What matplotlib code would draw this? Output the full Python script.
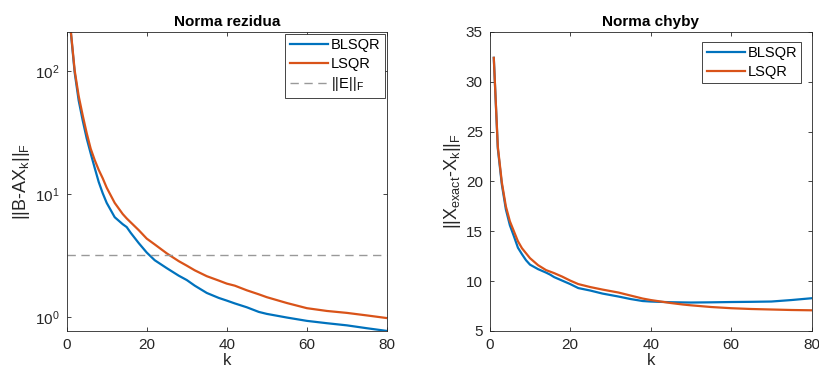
import matplotlib
matplotlib.use("Agg")
import matplotlib.pyplot as plt

# iteration numbers where values were read
k = [1, 2, 3, 4, 5, 6, 7, 8, 9, 10, 12, 14, 15, 16, 18, 20, 22, 25, 28, 30, 32,
     35, 38, 40, 42, 45, 48, 50, 55, 60, 65, 70, 75, 80]

# residual norm ||B - A X_k||_F
res_blsqr = [215, 98, 58, 40, 28.5, 21.5, 16.4, 12.6, 10.2, 8.5, 6.5, 5.7, 5.4, 4.85,
             4.0, 3.35, 2.9, 2.5, 2.17, 2.0, 1.8, 1.57, 1.43, 1.36, 1.29, 1.2, 1.1,
             1.06, 0.99, 0.93, 0.89, 0.855, 0.81, 0.77]
res_lsqr = [220, 102, 63, 44, 31.5, 23.5, 19, 15.8, 13.5, 11.3, 8.5, 6.9, 6.35, 5.9,
            5.1, 4.35, 3.9, 3.3, 2.85, 2.62, 2.4, 2.15, 1.98, 1.87, 1.8, 1.65, 1.53,
            1.45, 1.3, 1.18, 1.12, 1.08, 1.03, 0.98]
noise_norm = 3.2

# error norm ||X_exact - X_k||_F
err_blsqr = [32.4, 23.3, 19.7, 17.2, 15.6, 14.5, 13.35, 12.7, 12.1, 11.65, 11.2, 10.85,
             10.65, 10.4, 10.05, 9.7, 9.3, 9.05, 8.75, 8.6, 8.45, 8.2, 8.0, 7.95, 7.92,
             7.88, 7.86, 7.85, 7.87, 7.9, 7.92, 7.95, 8.1, 8.28]
err_lsqr = [32.4, 23.5, 19.9, 17.5, 16.0, 15.0, 14.0, 13.3, 12.8, 12.3, 11.6, 11.1,
            10.95, 10.8, 10.45, 10.05, 9.7, 9.4, 9.15, 9.0, 8.85, 8.55, 8.25, 8.1, 7.98,
            7.8, 7.65, 7.57, 7.4, 7.28, 7.2, 7.15, 7.1, 7.07]

BLUE = "#0072BD"
ORANGE = "#D95319"
AXC = "#262626"

plt.rcParams["font.family"] = ["Liberation Sans", "DejaVu Sans"]
plt.rcParams["mathtext.fontset"] = "custom"
plt.rcParams["mathtext.rm"] = "Liberation Sans"
plt.rcParams["mathtext.it"] = "Liberation Sans"
plt.rcParams["mathtext.default"] = "regular"

fig = plt.figure(figsize=(8.19, 3.71), dpi=100)
ax1 = fig.add_axes([0.0814, 0.108, 0.391, 0.806])
ax2 = fig.add_axes([0.598, 0.108, 0.393, 0.806])


def style(ax):
    for s in ax.spines.values():
        s.set_color(AXC)
        s.set_linewidth(0.6)
    ax.tick_params(direction="in", top=True, right=True, colors=AXC,
                   labelsize=11, length=3, width=0.6, labelcolor=AXC, pad=5)
    ax.tick_params(which="minor", length=0)


def legend(ax, pad):
    leg = ax.legend(loc="upper right", fontsize=10.5, fancybox=False, handlelength=2.6,
                    handletextpad=0.2, borderpad=0.3, labelspacing=0.3,
                    borderaxespad=pad, framealpha=1)
    leg.get_frame().set_edgecolor(AXC)
    leg.get_frame().set_linewidth(0.6)


# left: residual norm
ax1.plot(k, res_blsqr, color=BLUE, lw=1.6, label="BLSQR")
ax1.plot(k, res_lsqr, color=ORANGE, lw=1.6, label="LSQR")
ax1.axhline(noise_norm, color="#999999", lw=1.0, ls=(0, (6, 4)), label="||E||$_F$")
ax1.set_yscale("log")
ax1.set_xlim(0, 80)
ax1.set_ylim(0.77, 210)
ax1.set_xticks([0, 20, 40, 60, 80])
ax1.set_yticks([1, 10, 100])
ax1.minorticks_off()
ax1.set_title("Norma rezidua", fontsize=11, fontweight="bold", pad=4)
ax1.set_xlabel("k", fontsize=12, color=AXC, labelpad=1)
ax1.set_ylabel("||B-AX$_k$||$_F$", fontsize=13, color=AXC, labelpad=2)
style(ax1)
legend(ax1, 0.15)

# right: error norm
ax2.plot(k, err_blsqr, color=BLUE, lw=1.6, label="BLSQR")
ax2.plot(k, err_lsqr, color=ORANGE, lw=1.6, label="LSQR")
ax2.set_xlim(0, 80)
ax2.set_ylim(5, 35)
ax2.set_xticks([0, 20, 40, 60, 80])
ax2.set_yticks([5, 10, 15, 20, 25, 30, 35])
ax2.set_title("Norma chyby", fontsize=11, fontweight="bold", pad=4)
ax2.set_xlabel("k", fontsize=12, color=AXC, labelpad=1)
ax2.set_ylabel("||X$_{exact}$-X$_k$||$_F$", fontsize=13, color=AXC, labelpad=2)
style(ax2)
legend(ax2, 0.7)

fig.savefig("out.png", dpi=100)
